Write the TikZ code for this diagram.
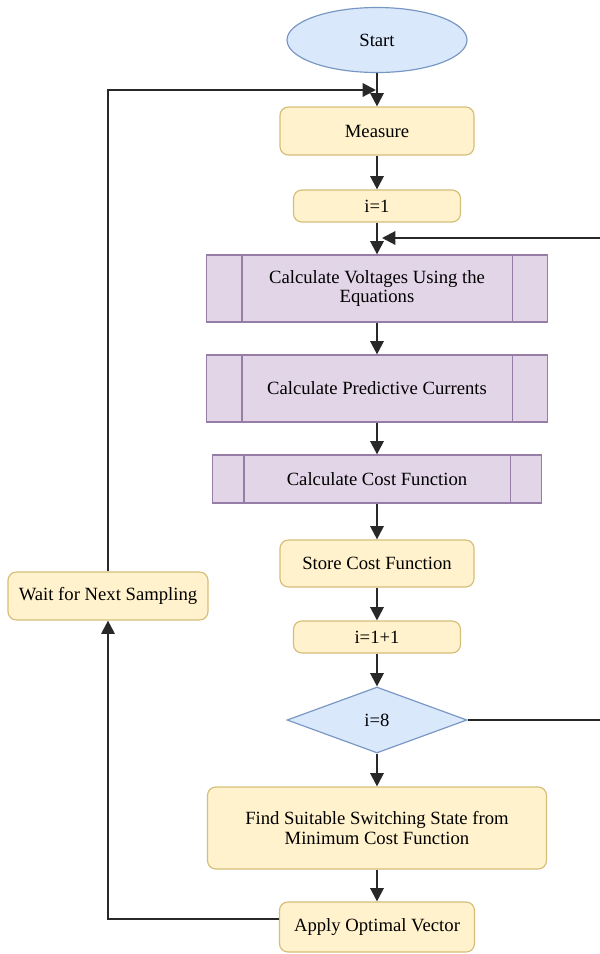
\documentclass[tikz,border=0pt]{standalone}
\usepackage{fontspec}
\setmainfont{Liberation Serif}
\usepackage{tikz}
\usetikzlibrary{arrows.meta, positioning, calc, shapes}
\definecolor{boxyellow}{RGB}{255, 242, 204}
\definecolor{lineyellow}{RGB}{214, 190, 120}
\definecolor{boxpurple}{RGB}{225, 213, 231}
\definecolor{linepurple}{RGB}{150, 125, 165}
\definecolor{boxblue}{RGB}{218, 232, 252}
\definecolor{lineblue}{RGB}{120, 150, 195}
\definecolor{flowline}{RGB}{40, 40, 40}
\def\pxu{0.6pt}
\tikzset{
    stepbox/.style={draw=lineyellow, fill=boxyellow, rounded corners=5pt, line width=0.7pt, align=center},
    procbox/.style={draw=linepurple, fill=boxpurple, line width=0.7pt, align=center},
    termbox/.style={ellipse, draw=lineblue, fill=boxblue, line width=0.7pt},
    testbox/.style={diamond, draw=lineblue, fill=boxblue, line width=0.7pt, inner sep=0pt},
    flow/.style={draw=flowline, line width=1.3pt, -{Triangle[length=8pt, width=8pt]}},
    plainflow/.style={draw=flowline, line width=1.3pt}
}

\begin{document}
\begin{tikzpicture}[x=\pxu, y=-\pxu, font=\fontsize{11.2}{11.6}\selectfont]
        \useasboundingbox (0,0) rectangle (600,954);
        % Main column
        \node[termbox, minimum width=180*\pxu, minimum height=65*\pxu] (start) at (377,40) {Start};
        \node[stepbox, minimum width=194*\pxu, minimum height=48*\pxu] (measure) at (377,131) {Measure};
        \node[stepbox, minimum width=167*\pxu, minimum height=32*\pxu] (iinit) at (377,206) {i=1};
        \node[procbox, minimum width=341*\pxu, minimum height=67*\pxu] (volt) at (377,288.5) {Calculate Voltages Using the\\Equations};
        \node[procbox, minimum width=341*\pxu, minimum height=67*\pxu] (pred) at (377,388.5) {Calculate Predictive Currents};
        \node[procbox, minimum width=329*\pxu, minimum height=48*\pxu] (cost) at (377,479) {Calculate Cost Function};
        \node[stepbox, minimum width=194*\pxu, minimum height=47*\pxu] (store) at (377,563.5) {Store Cost Function};
        \node[stepbox, minimum width=167*\pxu, minimum height=32*\pxu] (incr) at (377,637) {i=1+1};
        \node[testbox, minimum width=180*\pxu, minimum height=66*\pxu] (check) at (377,720) {i=8};
        \node[stepbox, minimum width=339*\pxu, minimum height=82*\pxu] (find) at (377,828) {Find Suitable Switching State from\\Minimum Cost Function};
        \node[stepbox, minimum width=195*\pxu, minimum height=50*\pxu] (apply) at (377,927) {Apply Optimal Vector};
        
        % Side box
        \node[stepbox, minimum width=200*\pxu, minimum height=48*\pxu] (wait) at (108,596) {Wait for Next Sampling};
        
        % Inner lines of the process boxes
        \foreach \b/\d in {volt/36, pred/36, cost/32} {
            \draw[linepurple, line width=0.7pt] ($(\b.north west)+(\d,0)$) -- ($(\b.south west)+(\d,0)$);
            \draw[linepurple, line width=0.7pt] ($(\b.north east)+(-\d,0)$) -- ($(\b.south east)+(-\d,0)$);
        }
        
        % Connectors
        \coordinate (top) at (376,90);
        \coordinate (loopin) at (382,238);
        \coordinate (edge) at (606,720);
        \draw[flow] (start) -- (measure);
        \draw[flow] (measure) -- (iinit);
        \draw[flow] (iinit) -- (volt);
        \draw[flow] (volt) -- (pred);
        \draw[flow] (pred) -- (cost);
        \draw[flow] (cost) -- (store);
        \draw[flow] (store) -- (incr);
        \draw[flow] (incr) -- (check);
        \draw[flow] (check) -- (find);
        \draw[flow] (find) -- (apply);
        \draw[flow] (check.east) -- (edge) |- (loopin);
        \draw[flow] ([yshift=5pt]apply.west) -| (wait.south);
        \draw[flow] (wait.north) |- (top);
    \end{tikzpicture}
\end{document}
